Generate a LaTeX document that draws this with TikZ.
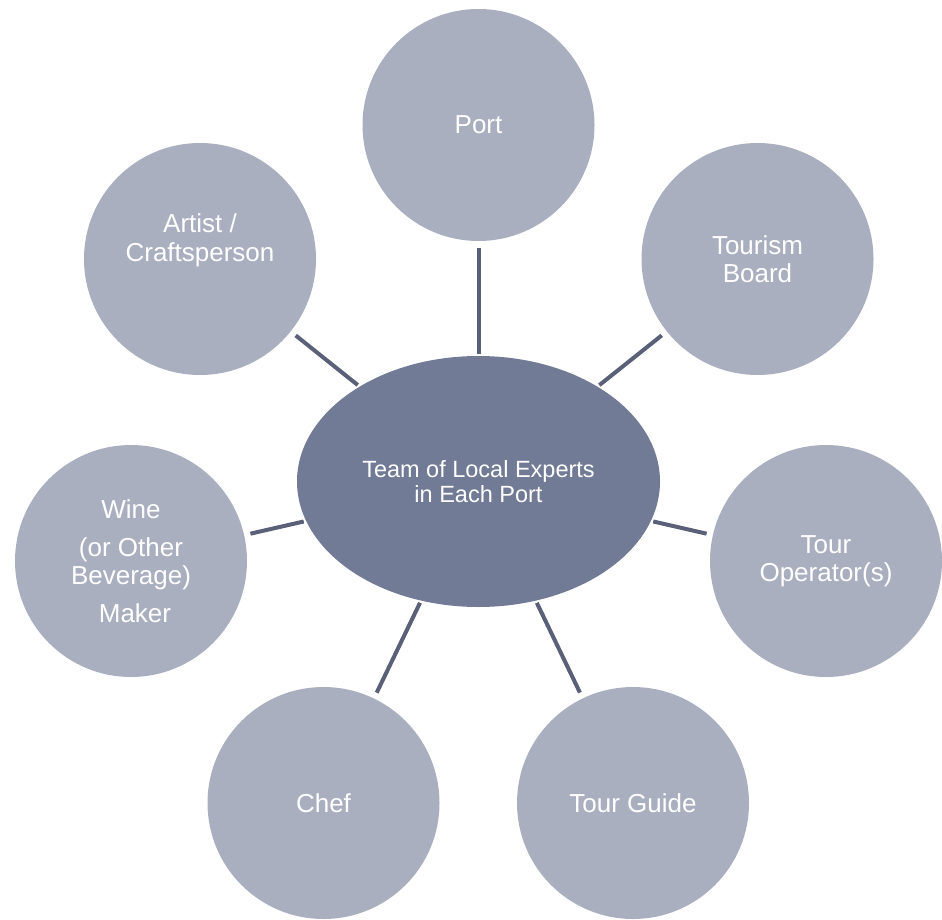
\documentclass[tikz,border=0pt]{standalone}
\usepackage{fontspec}
\setmainfont{Liberation Sans}
\usetikzlibrary{shapes}
\definecolor{spokefill}{RGB}{170,175,192}
\definecolor{hubfill}{RGB}{114,123,150}
\definecolor{linkcol}{RGB}{90,96,120}

\begin{document}
\begin{tikzpicture}[x=1pt,y=-1pt,
        expert/.style={circle,fill=spokefill,minimum size=232pt,inner sep=0pt,outer sep=0pt,
            text=white,align=center,font=\fontsize{26}{28}\selectfont},
        core/.style={ellipse,fill=hubfill,minimum width=363pt,minimum height=251pt,inner sep=0pt,
            outer sep=0pt,text=white,align=center,font=\fontsize{23.5}{25}\selectfont},
        link/.style={draw=linkcol,line width=4pt,shorten <=2.5pt,shorten >=6.5pt}]
                \useasboundingbox (0,0) rectangle (942,920);

                \node [core] (team) at (478.5,481.5) {Team of Local Experts\\in Each Port};

                \node [expert] (port) at (478.5,125) {Port};
                \node [expert] (tourism) at (757.5,259) {Tourism\\Board};
                \node [expert] (operator) at (826,561) {Tour\\Operator(s)};
                \node [expert] (guide) at (633,803) {Tour Guide};
                \node [expert] (chef) at (323.5,803) {Chef};
                \node [expert,font=\fontsize{26}{27.5}\selectfont] (wine) at (131,561)
                    {Wine\\[11pt](or Other\\Beverage)\\[11pt]\hspace*{8pt}Maker};
                \node [expert,text depth=42pt,font=\fontsize{26}{29}\selectfont] (artist) at (200,259)
                    {Artist /\\Craftsperson};

                \foreach \n in {port,tourism,operator,guide,chef,wine,artist}
                {
                    \draw [link] (team) -- (\n);
                }
            \end{tikzpicture}
\end{document}
